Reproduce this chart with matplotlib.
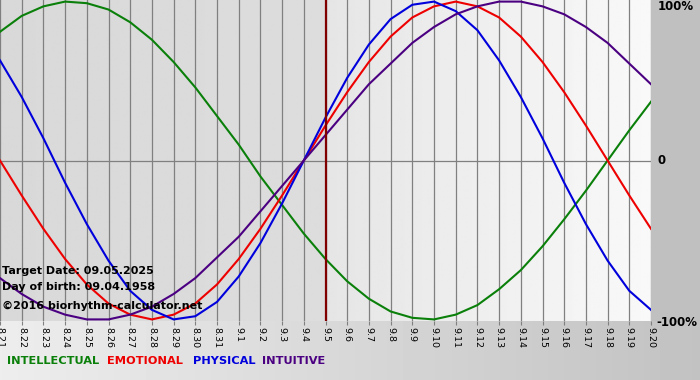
import numpy as np
import matplotlib
matplotlib.use('Agg')
import matplotlib.pyplot as plt

# day labels (month.day), 8.21 .. 9.20
day_labels = ['8.21', '8.22', '8.23', '8.24', '8.25', '8.26', '8.27', '8.28', '8.29', '8.30', '8.31',
              '9.1', '9.2', '9.3', '9.4', '9.5', '9.6', '9.7', '9.8', '9.9', '9.10',
              '9.11', '9.12', '9.13', '9.14', '9.15', '9.16', '9.17', '9.18', '9.19', '9.20']
target_label = '9.5'

# values (-1 .. 1)
intellectual = [0.81, 0.91, 0.97, 1.00, 0.99, 0.95, 0.87, 0.76, 0.62, 0.46, 0.28, 0.10, -0.10, -0.28, -0.46, -0.62,
                -0.76, -0.87, -0.95, -0.99, -1.00, -0.97, -0.91, -0.81, -0.69, -0.54, -0.37, -0.19, 0.00, 0.19, 0.37]
emotional = [0.00, -0.22, -0.43, -0.62, -0.78, -0.90, -0.97, -1.00, -0.97, -0.90, -0.78, -0.62, -0.43, -0.22, 0.00, 0.22,
             0.43, 0.62, 0.78, 0.90, 0.97, 1.00, 0.97, 0.90, 0.78, 0.62, 0.43, 0.22, 0.00, -0.22, -0.43]
physical = [0.63, 0.40, 0.14, -0.14, -0.40, -0.63, -0.82, -0.94, -1.00, -0.98, -0.89, -0.73, -0.52, -0.27, 0.00, 0.27,
            0.52, 0.73, 0.89, 0.98, 1.00, 0.94, 0.82, 0.63, 0.40, 0.14, -0.14, -0.40, -0.63, -0.82, -0.94]
intuitive = [-0.74, -0.84, -0.92, -0.97, -1.00, -1.00, -0.97, -0.92, -0.84, -0.74, -0.61, -0.48, -0.32, -0.16, 0.00, 0.16,
             0.32, 0.48, 0.61, 0.74, 0.84, 0.92, 0.97, 1.00, 1.00, 0.97, 0.92, 0.84, 0.74, 0.61, 0.48]

names = ['INTELLECTUAL', 'EMOTIONAL', 'PHYSICAL', 'INTUITIVE']
colors = ['#0a800a', '#ee0000', '#0000dd', '#4b0082']
series = [intellectual, emotional, physical, intuitive]

W, H = 700, 380
fig = plt.figure(figsize=(7, 3.8), dpi=100)

# figure background: gray right margin, gradient below the plot
bg = fig.add_axes([0, 0, 1, 1])
img = np.full((H, W), 0.753)
grad = np.linspace(0.93, 0.76, W)
img[321:, :] = grad[None, :]
bg.imshow(img, cmap='gray', vmin=0, vmax=1, aspect='auto', interpolation='bilinear')
bg.set_axis_off()

ax = fig.add_axes([0, 1 - 321 / H, 651 / W, 321 / H])
ax.set_xlim(0, 30)
ax.set_ylim(-1.01, 1.01)
x = np.arange(len(day_labels))

# plot background: darker before target, lighter gradient after
left = np.linspace(0.85, 0.865, 150)
right = np.linspace(0.90, 0.975, 150)
pb = np.concatenate([left, right])[None, :]
ax.imshow(pb, cmap='gray', vmin=0, vmax=1, aspect='auto', extent=[0, 30, -1.01, 1.01], zorder=0)

for xi in x:
    ax.axvline(xi, color='#808080', lw=0.9, zorder=1)
ax.axhline(0, color='#808080', lw=0.9, zorder=1)

for vals, c in zip(series, colors):
    ax.plot(x, vals, color=c, lw=1.5, zorder=3, solid_joinstyle='round')

ax.axvline(day_labels.index(target_label), color='#800000', lw=1.6, zorder=4)

for s in ax.spines.values():
    s.set_visible(False)
ax.set_yticks([])
ax.set_xticks(x)
ax.set_xticklabels(day_labels, rotation=270, fontsize=6.8, ha='center', va='top')
ax.tick_params(axis='x', length=3, color='#808080', pad=1)

def px(xp, yp, s, **kw):
    fig.text(xp / W, 1 - yp / H, s, **kw)

px(658, 7, '100%', fontsize=8.5, fontweight='bold', va='center')
px(658, 161, '0', fontsize=8.5, fontweight='bold', va='center')
px(656, 322, '-100%', fontsize=8.5, fontweight='bold', va='center')

px(2, 271, 'Target Date: 09.05.2025', fontsize=8.0, fontweight='bold', va='center')
px(2, 287, 'Day of birth: 09.04.1958', fontsize=8.0, fontweight='bold', va='center')
px(2, 306, '\u00a92016 biorhythm-calculator.net', fontsize=8.0, fontweight='bold', va='center')

for nm, c, xp in zip(names, colors, [7, 107, 193, 262]):
    px(xp, 361, nm, fontsize=8.2, fontweight='bold', color=c, va='center')

fig.savefig('out.png', dpi=100)
